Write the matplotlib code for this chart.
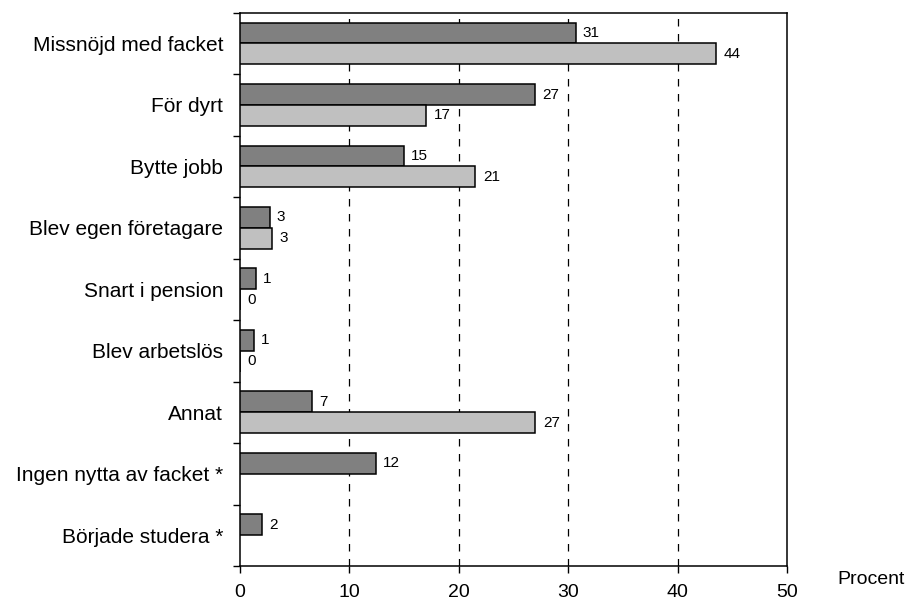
import matplotlib
matplotlib.use("Agg")
import matplotlib.pyplot as plt
import numpy as np

plt.rcParams['font.family'] = ['Liberation Sans', 'DejaVu Sans']

# data
kategorier = ["Missnöjd med facket", "För dyrt", "Bytte jobb", "Blev egen företagare",
              "Snart i pension", "Blev arbetslös", "Annat",
              "Ingen nytta av facket *", "Började studera *"]
serie1 = [30.7, 27.0, 15.0, 2.7, 1.45, 1.3, 6.6, 12.4, 2.0]
serie1_etikett = ["31", "27", "15", "3", "1", "1", "7", "12", "2"]
serie2 = [43.5, 17.0, 21.5, 2.9, 0.0, 0.0, 27.0, None, None]
serie2_etikett = ["44", "17", "21", "3", "0", "0", "27", None, None]
xticks = [0, 10, 20, 30, 40, 50]

fig = plt.figure(figsize=(9.07, 6.07), dpi=100)
ax = fig.add_axes([0.2646, 0.0675, 0.6031, 0.9115])

y = np.arange(len(kategorier))
h = 0.34
off = 0.17

ax.barh(y - off, serie1, height=h, color="#808080", edgecolor="black", linewidth=1.1, zorder=3)
y2 = [yy + off for yy, v in zip(y, serie2) if v is not None]
v2 = [v for v in serie2 if v is not None]
ax.barh(y2, v2, height=h, color="#c0c0c0", edgecolor="black", linewidth=1.1, zorder=3)

# etiketter
for yy, v, t in zip(y, serie1, serie1_etikett):
    ax.annotate(t, (v, yy - off), xytext=(5, 0), textcoords="offset points",
                va="center", ha="left", fontsize=11)
for yy, v, t in zip(y, serie2, serie2_etikett):
    if v is None:
        continue
    ax.annotate(t, (v, yy + off), xytext=(5.5, 0), textcoords="offset points",
                va="center", ha="left", fontsize=11)

ax.set_xlim(0, 50)
ax.set_ylim(len(kategorier) - 0.5, -0.5)
ax.set_xticks(xticks)
ax.set_xticklabels([str(x) for x in xticks], fontsize=14)
ax.tick_params(axis="x", direction="out", length=5, width=1, pad=8)

# kategorigränser som stora ticks, namnen som små
ax.set_yticks(np.arange(-0.5, len(kategorier), 1.0))
ax.set_yticklabels([])
ax.set_yticks(y, minor=True)
ax.set_yticklabels(kategorier, minor=True, fontsize=15)
ax.tick_params(axis="y", which="major", direction="out", length=5, width=1)
ax.tick_params(axis="y", which="minor", length=0, pad=12)

for gx in xticks[1:-1]:
    ax.axvline(gx, color="black", linestyle=(0, (6, 6)), linewidth=0.9, zorder=1)

for s in ax.spines.values():
    s.set_linewidth(1.1)
    s.set_color("black")

fig.text(0.96, 0.045, "Procent", fontsize=14, ha="center", va="center")

fig.savefig("out.png", dpi=100)
